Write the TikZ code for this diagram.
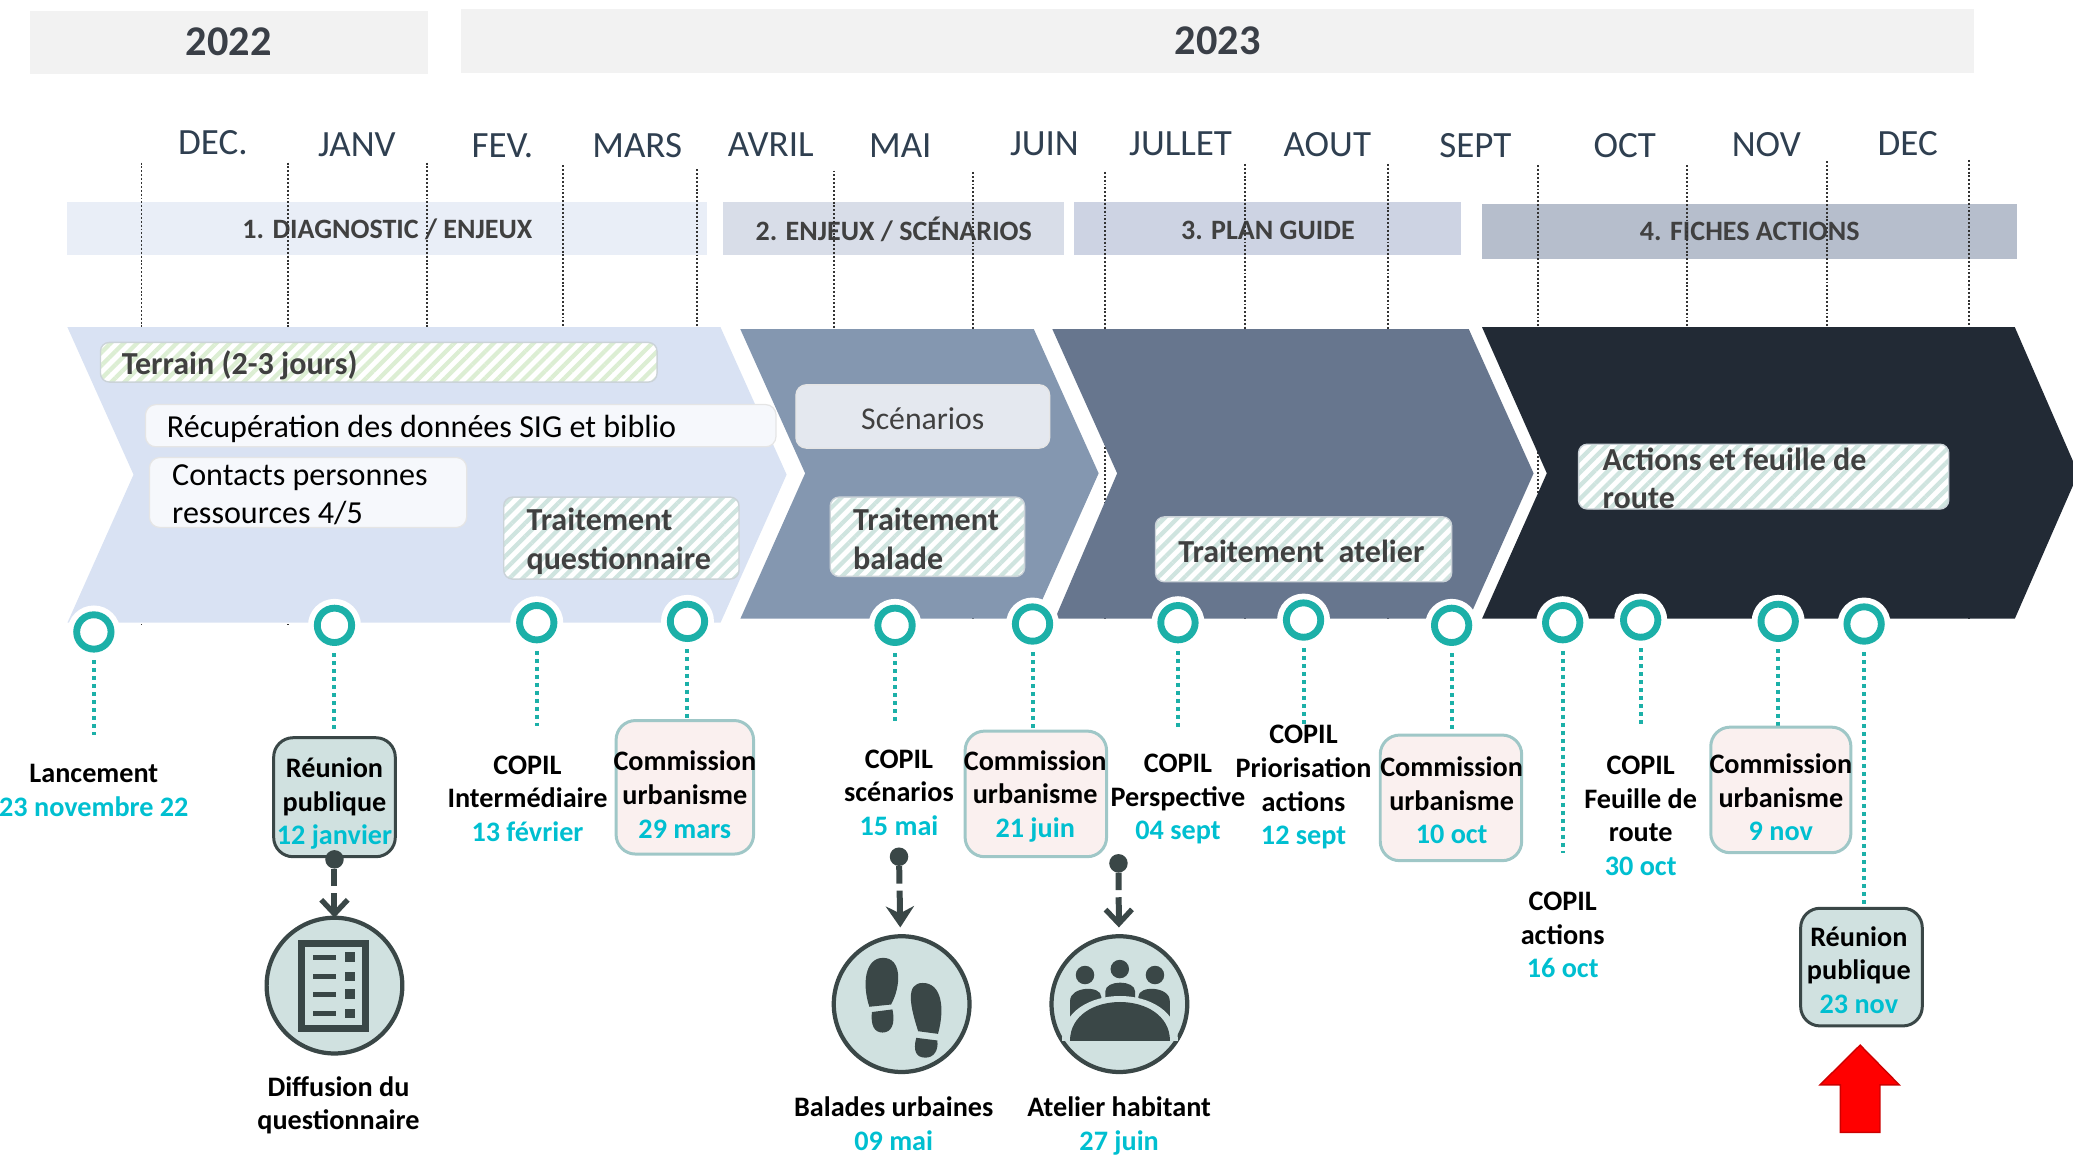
\documentclass[tikz,border=0pt]{standalone}
\usepackage{fontspec}
\setmainfont{Carlito}
\usetikzlibrary{arrows.meta,patterns.meta}
\definecolor{yearbg}{HTML}{F2F2F2}
\definecolor{yeartx}{HTML}{3A3F47}
\definecolor{monthtx}{HTML}{2F3F50}
\definecolor{ph1}{HTML}{E9EEF7}
\definecolor{ph2}{HTML}{D8DDE8}
\definecolor{ph3}{HTML}{CDD3E3}
\definecolor{ph4}{HTML}{B6BECC}
\definecolor{ch1}{HTML}{D9E2F3}
\definecolor{ch2}{HTML}{8497B0}
\definecolor{ch3}{HTML}{67768E}
\definecolor{ch4}{HTML}{222A35}
\definecolor{dk}{HTML}{404040}
\definecolor{tealring}{HTML}{1CB0A8}
\definecolor{datec}{HTML}{00BFD0}
\definecolor{slate}{HTML}{3A4747}
\definecolor{pale}{HTML}{D0E1E0}
\definecolor{rosebg}{HTML}{FAF0EF}
\definecolor{roseln}{HTML}{9FC7C7}
\definecolor{hgreen}{HTML}{DCEED3}
\definecolor{hteal}{HTML}{CFE4DF}
\definecolor{hedge}{HTML}{CBD3D8}
\definecolor{softa}{HTML}{F6F8FC}
\definecolor{softb}{HTML}{E4E8EF}
\newcommand{\bx}[6]{\node[#6,inner sep=0pt,outer sep=0pt,minimum width={(#4-#2)*0.75pt},minimum height={(#5-#3)*0.75pt}] (#1) at ({(#2+#4)/2},{(#3+#5)/2}) {};}
\newcommand{\dt}[1]{\textcolor{datec}{#1}}
\tikzset{
  yeartxt/.style={font=\fontsize{24}{28}\selectfont\bfseries,text=yeartx,inner sep=0pt},
  monthtxt/.style={font=\fontsize{21}{24}\selectfont,text=monthtx,inner sep=0pt},
  phasetxt/.style={font=\fontsize{15.9}{19}\selectfont\bfseries,text=dk,inner sep=0pt},
  hatchtxt/.style={font=\fontsize{18.2}{21.8}\selectfont\bfseries,text=dk,inner sep=0pt,anchor=west,align=left},
  plaintxt/.style={font=\fontsize{18.2}{21.4}\selectfont,text=black,inner sep=0pt,anchor=west,align=left},
  lab/.style={font=\fontsize{16}{19.1}\selectfont\bfseries,text=black,inner sep=0pt,align=center},
  hatch/.style={rounded corners=5pt,draw=hedge,line width=0.8pt,preaction={fill=white},pattern={Lines[angle=45,distance=5.3pt,line width=2.4pt]},pattern color=#1},
  softbox/.style={rounded corners=6pt,fill=#1,draw=black!10,line width=0.7pt},
  comm/.style={rounded corners=11pt,fill=rosebg,draw=roseln,line width=1.7pt},
  reun/.style={rounded corners=11pt,fill=pale,draw=slate,line width=1.7pt},
  ring/.style={circle,draw=tealring,fill=white,line width=3.9pt,minimum size=19.5pt,inner sep=0pt,outer sep=0pt,preaction={draw=white,line width=10.5pt}},
  tealdash/.style={draw=tealring,line width=2.27pt,dash pattern=on 2.27pt off 2.27pt,shorten <=6.2pt},
  monthline/.style={draw=black!80,line width=1.05pt,dash pattern=on 1.1pt off 1.1pt},
  iconc/.style={circle,fill=pale,draw=slate,line width=2.4pt,inner sep=0pt,outer sep=0pt,minimum size=77pt},
  spoondot/.style={circle,fill=slate,inner sep=0pt,outer sep=0pt,minimum size=10.5pt},
  spoon/.style={draw=slate,line width=3.4pt,dash pattern=on 10pt off 4pt on 40pt},
}
\begin{document}
\begin{tikzpicture}[x=0.75pt,y=-0.75pt]
\useasboundingbox (0,0) rectangle (1568,872.9);
% years
\bx{y22}{23}{8}{324}{56}{fill=yearbg}
\bx{y23}{349}{7}{1493}{55}{fill=yearbg}
\node[yeartxt] at (173,31.5) {2022};
\node[yeartxt] at (921,30.5) {2023};
% months
\foreach \n/\t/\x/\y in {a/DEC./161/108,b/JANV/270/109.5,c/FEV./380/110,d/MARS/482/110.5,e/AVRIL/583/109.5,f/MAI/681/110.5,g/JUIN/790/108.5,h/JULLET/893/108.5,i/AOUT/1004/109.5,j/SEPT/1116/110.5,k/OCT/1229/110,l/NOV/1336/109.5,m/DEC/1443/108.5}
  \node[monthtxt] (mo\n) at (\x,\y) {\t};
% phases
\bx{p1}{51}{153}{535}{193}{fill=ph1}
\bx{p2}{547}{153}{805}{193}{fill=ph2}
\bx{p3}{812}{153}{1105}{193}{fill=ph3}
\bx{p4}{1121}{154}{1526}{196}{fill=ph4}
\node[phasetxt] at (293,173.5) {1. DIAGNOSTIC / ENJEUX};
\node[phasetxt] at (676,173.5) {2. ENJEUX / SCÉNARIOS};
\node[phasetxt] at (959,174) {3. PLAN GUIDE};
\node[phasetxt] at (1323.5,175) {4. FICHES ACTIONS};
% month rules
\foreach \x/\y/\z in {107/123/472.5,218/123/472.5,323/123/471,426/125/471,527/128/471,631/129/468,736/130/468,836/130/468,942/124/468,1050/124/468,1163/125/468,1276/125/468,1382/122/468,1489/121/468}{
  \coordinate (ta) at (\x,\y); \coordinate (tb) at (\x,\z);
  \draw[monthline] (ta) -- (tb);
}
% chevrons
\fill[ch1] (51,247.5) -- (545,247.5) -- (595,359) -- (545,471) -- (51,471) -- (101,359) -- cycle;
\fill[ch2] (560,249) -- (782,249) -- (831,358) -- (782,468) -- (560,468) -- (609,358) -- cycle;
\fill[ch3] (796,249) -- (1111,249) -- (1160,358) -- (1111,468) -- (798,468) -- (845,358) -- cycle;
\fill[ch4] (1121,247.5) -- (1524,247.5) -- (1572,358) -- (1524,468) -- (1121,468) -- (1170,358) -- cycle;
% activity boxes
\bx{b1}{76}{259}{497}{289}{hatch=hgreen}
\node[hatchtxt] at (92,276.5) {Terrain (2-3 jours)};
\bx{b2}{110}{306}{587}{338}{softbox=softa}
\node[plaintxt] at (126,324.5) {Récupération des données SIG et biblio};
\bx{b3}{113}{346}{353}{399}{softbox=softa}
\node[plaintxt] at (130,374.5) {Contacts personnes\\ressources 4/5};
\bx{b4}{381}{376}{559}{438}{hatch=hteal}
\node[hatchtxt] at (398,409.5) {Traitement\\questionnaire};
\bx{b5}{602}{291}{794}{339}{softbox=softb}
\node[font=\fontsize{18}{21}\selectfont,text=dk,inner sep=0pt] at (698,316.5) {Scénarios};
\bx{b6}{628}{376}{775}{436}{hatch=hteal}
\node[hatchtxt] at (645,407.5) {Traitement\\balade};
\bx{b7}{874}{391}{1098}{440}{hatch=hteal}
\node[hatchtxt] at (891,417) {Traitement\ \ atelier};
\bx{b8}{1194}{336}{1474}{385}{hatch=hteal}
\node[hatchtxt] at (1212,362) {Actions et feuille de\\route};
% rings
\foreach \n/\x/\y in {1/71/478,2/253/473,3/406/471,4/520/470,5/677/473,6/781/472,7/891/471,8/986/469,9/1098/473,10/1182/471,11/1241/469,12/1345/470,13/1410/472}
  \node[ring] (r\n) at (\x,\y) {};
\foreach \n/\x/\y in {1/71/556,2/253/553,3/406/549,4/520/545,5/677/545,6/781/552,7/891/550,8/986/548,9/1098/553,10/1182/645,11/1241/548,12/1345/550,13/1410/686}{
  \coordinate (e\n) at (\x,\y);
  \draw[tealdash] (r\n) -- (e\n);
}
% milestone boxes
\bx{rp1}{207}{558}{299}{648}{reun}
\bx{cm1}{466}{545}{570}{646}{comm}
\bx{cm2}{730}{553}{837}{648}{comm}
\bx{cm3}{1044}{556}{1151}{651}{comm}
\bx{cm4}{1294}{550}{1400}{645}{comm}
\bx{rp2}{1362}{687}{1454}{776}{reun}
% milestone labels
\node[lab] at (71,597.8) {Lancement\\\dt{23 novembre 22}};
\node[lab] at (253,607.8) {Réunion\\publique\\\dt{12 janvier}};
\node[lab] at (399,604) {COPIL\\Intermédiaire\\\dt{13 février}};
\node[lab] at (518,601) {Commission\\urbanisme\\\dt{29 mars}};
\node[lab] at (680,599.5) {COPIL\\scénarios\\\dt{15 mai}};
\node[lab] at (783,602.3) {Commission\\urbanisme\\\dt{21 juin}};
\node[lab] at (891,604.5) {COPIL\\Perspective\\\dt{04 sept}};
\node[lab] at (986,595.5) {COPIL\\Priorisation\\actions\\\dt{12 sept}};
\node[lab] at (1098,605.5) {Commission\\urbanisme\\\dt{10 oct}};
\node[lab] at (1182,707.3) {COPIL\\actions\\\dt{16 oct}};
\node[lab] at (1241,617) {COPIL\\Feuille de\\route\\\dt{30 oct}};
\node[lab] at (1347,603) {Commission\\urbanisme\\\dt{9 nov}};
\node[lab] at (1406,733.7) {Réunion\\publique\\\dt{23 nov}};
\node[lab] at (256,836) {Diffusion du\\questionnaire};
\node[lab] at (676,850) {Balades urbaines\\\dt{09 mai}};
\node[lab] at (846.5,851.5) {Atelier habitant\\\dt{27 juin}};
% icon circles
\node[iconc] (c1) at (253,745.5) {};
\node[iconc] (c2) at (682,759.5) {};
\node[iconc] (c3) at (846.7,759.5) {};
% spoon connectors
\node[spoondot] (s1) at (253,650) {};
\node[spoondot] (s2) at (680,648) {};
\node[spoondot] (s3) at (846,653) {};
\draw[spoon,-{Straight Barb[length=8pt,width=15pt,line width=3pt]}] (s1) -- (c1);
\draw[spoon,-{Stealth[length=12pt,width=16pt,inset=4pt]},shorten >=5pt] (s2) -- (c2);
\draw[spoon,-{Straight Barb[length=8pt,width=15pt,line width=3pt]},shorten >=5pt] (s3) -- (c3);
% list icon
\draw[slate,line width=4pt] (228,713.5) rectangle (276.5,778);
\foreach \y in {724,738.5,752,766.5}{
  \fill[slate] (236.6,\y-2) rectangle (254,\y+2);
  \fill[slate] (261,\y-3.6) rectangle (268.5,\y+3.6);
}
% footprints icon
\fill[slate] (657.6,761.5) .. controls (652,745) and (654,724.5) .. (668,724.5) .. controls (682,724.5) and (682,745) .. (674,759.8) -- cycle;
\fill[slate] (659.5,765.5) -- (675,763.5) .. controls (677.5,775) and (674,781) .. (667.5,781) .. controls (661,781) and (658.5,775) .. (659.5,765.5) -- cycle;
\fill[slate] (694.5,780) .. controls (688,760) and (685,743.5) .. (698,743.5) .. controls (712,743.5) and (715,762) .. (709.5,782) -- cycle;
\fill[slate] (693,785) -- (709,787) .. controls (710,795) and (706,800) .. (700,800) .. controls (693,800) and (690.5,795) .. (693,785) -- cycle;
% people icon
\fill[slate] (820.7,737.5) circle (7);
\fill[slate] (847,733) circle (7);
\fill[slate] (873.6,737.5) circle (7);
\fill[slate] (809.4,778) -- (809.4,757) .. controls (809.4,746) and (833,745) .. (833,754) -- (833,760) -- cycle;
\fill[slate] (884.8,778) -- (884.8,757) .. controls (884.8,746) and (861,745) .. (861,754) -- (861,760) -- cycle;
\fill[slate] (836,758) -- (836,750) .. controls (836,741) and (858.6,741) .. (858.6,750) -- (858.6,758) -- cycle;
\fill[pale] (803,787.5) .. controls (803,742) and (891,742) .. (891,787.5) -- cycle;
\fill[slate] (809.4,787.5) .. controls (809.4,748) and (885,748) .. (885,787.5) -- cycle;
% red arrow
\filldraw[fill=red,draw=red!80!black,line width=0.8pt] (1407,790.5) -- (1436.6,820.6) -- (1422,820.6) -- (1422,856.5) -- (1392,856.5) -- (1392,820.6) -- (1376.6,820.6) -- cycle;
\end{tikzpicture}
\end{document}
